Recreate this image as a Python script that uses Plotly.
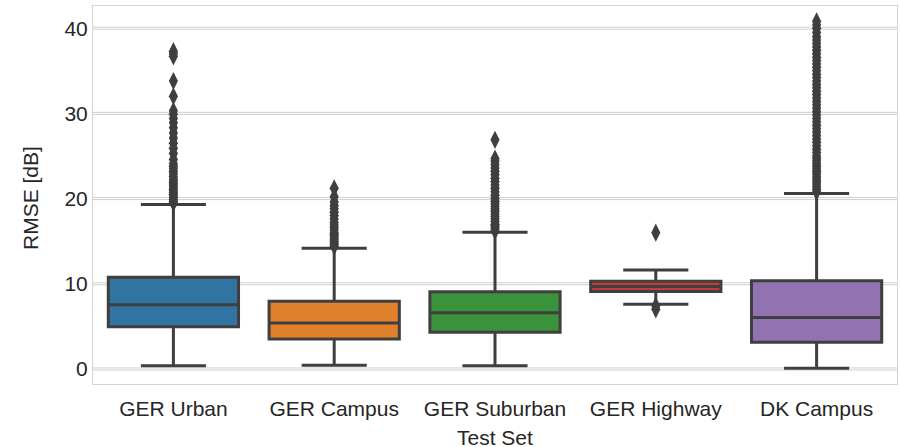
import plotly.graph_objects as go

categories = ["GER Urban", "GER Campus", "GER Suburban", "GER Highway", "DK Campus"]
q1 = [4.97, 3.52, 4.31, 9.10, 3.13]
median = [7.55, 5.40, 6.61, 9.68, 6.03]
q3 = [10.76, 7.94, 9.08, 10.30, 10.37]
lower_fence = [0.39, 0.43, 0.39, 7.59, 0.08]
upper_fence = [19.3, 14.16, 16.04, 11.62, 20.6]
colors = ["#3274a1", "#e1812c", "#3a923a", "#c03d3e", "#9372b2"]

outliers_urban = [19.5, 19.7, 19.9, 20.1, 20.3, 20.5, 20.7, 20.9, 21.1, 21.3, 21.5, 21.7,
                  21.9, 22.1, 22.3, 22.6, 22.9, 23.2, 23.5, 23.8, 24.1, 24.6, 25.3, 25.9,
                  26.5, 27.1, 27.7, 28.3, 28.9, 29.4, 29.9, 30.3, 32.0, 33.8, 36.7, 37.0, 37.3]
outliers_campus = [14.4, 14.6, 14.8, 15.0, 15.2, 15.4, 15.6, 15.8, 16.0, 16.3, 16.6, 16.9,
                   17.2, 17.6, 18.0, 18.4, 18.8, 19.2, 19.6, 20.2, 21.2]
outliers_suburban = [16.2, 16.4, 16.6, 16.8, 17.0, 17.3, 17.6, 17.9, 18.2, 18.5, 18.8, 19.1,
                     19.4, 19.7, 20.0, 20.4, 20.8, 21.2, 21.6, 22.0, 22.4, 22.8, 23.2, 23.6,
                     24.0, 24.4, 24.7, 26.9]
outliers_highway = [16.0, 7.4, 7.0]
outliers_dk = [20.8, 21.1, 21.4, 21.7, 22.0, 22.3, 22.6, 22.9, 23.2, 23.5, 23.8, 24.1, 24.4,
               24.7, 25.0, 25.4, 25.8, 26.2, 26.6, 27.0, 27.4, 27.8, 28.2, 28.6, 29.0, 29.4,
               29.8, 30.2, 30.6, 31.0, 31.4, 31.8, 32.2, 32.6, 33.0, 33.4, 33.8, 34.2, 34.6,
               35.0, 35.4, 35.8, 36.2, 36.6, 37.0, 37.4, 37.8, 38.2, 38.6, 39.0, 39.5, 40.0,
               40.4, 40.8]
outliers = [outliers_urban, outliers_campus, outliers_suburban, outliers_highway, outliers_dk]

y_ticks = [0, 10, 20, 30, 40]
x_title = "Test Set"
y_title = "RMSE [dB]"

edge = "#3f3f3f"
text_color = "#262626"
grid_color = "#cfcfcf"
FS = 21

fig = go.Figure()

for i, cat in enumerate(categories):
    fig.add_trace(go.Box(
        x=[cat], q1=[q1[i]], median=[median[i]], q3=[q3[i]],
        lowerfence=[lower_fence[i]], upperfence=[upper_fence[i]],
        boxpoints=False, fillcolor=colors[i], width=0.81,
        line=dict(color=edge, width=3), whiskerwidth=0.5,
        showlegend=False, hoverinfo="skip",
    ))
    fig.add_trace(go.Scatter(
        x=[cat] * len(outliers[i]), y=outliers[i], mode="markers",
        marker=dict(symbol="diamond-tall", size=13, color=edge,
                    line=dict(width=0)),
        showlegend=False, hoverinfo="skip",
    ))

# doubled light grid lines as in the reference
for v in y_ticks:
    for off in (-0.12, 0.12):
        fig.add_shape(type="line", xref="paper", yref="y", x0=0, x1=1,
                      y0=v + off, y1=v + off,
                      line=dict(color=grid_color, width=1), layer="below")

fig.add_annotation(text=x_title, xref="paper", yref="paper", x=0.5, y=0,
                   yanchor="middle", xanchor="center", yshift=-53, showarrow=False,
                   font=dict(size=FS, color=text_color))
fig.add_annotation(text=y_title, xref="paper", yref="paper", x=0, y=0.5,
                   textangle=-90, xanchor="center", yanchor="middle",
                   xshift=-63, yshift=-3, showarrow=False,
                   font=dict(size=FS, color=text_color))

fig.update_layout(
    width=900, height=447,
    margin=dict(l=93, r=3, t=6, b=63),
    paper_bgcolor="white", plot_bgcolor="white",
    font=dict(family="Liberation Sans, Arial, sans-serif", size=FS, color=text_color),
)
fig.update_xaxes(
    categoryorder="array", categoryarray=categories,
    range=[-0.5, 4.5], automargin=False,
    showgrid=False, zeroline=False,
    showline=True, mirror=True, linecolor="#d4d4d4", linewidth=1,
    ticks="outside", ticklen=6, tickcolor="rgba(0,0,0,0)",
)
fig.update_yaxes(
    range=[-1.76, 42.6], automargin=False,
    tickvals=y_ticks,
    showgrid=False, zeroline=False,
    showline=True, mirror=True, linecolor="#d4d4d4", linewidth=1,
    ticks="outside", ticklen=0, tickcolor="rgba(0,0,0,0)",
)

fig.write_html("out.html", config={"displayModeBar": False},
               post_script="document.body.style.margin='0px';")
